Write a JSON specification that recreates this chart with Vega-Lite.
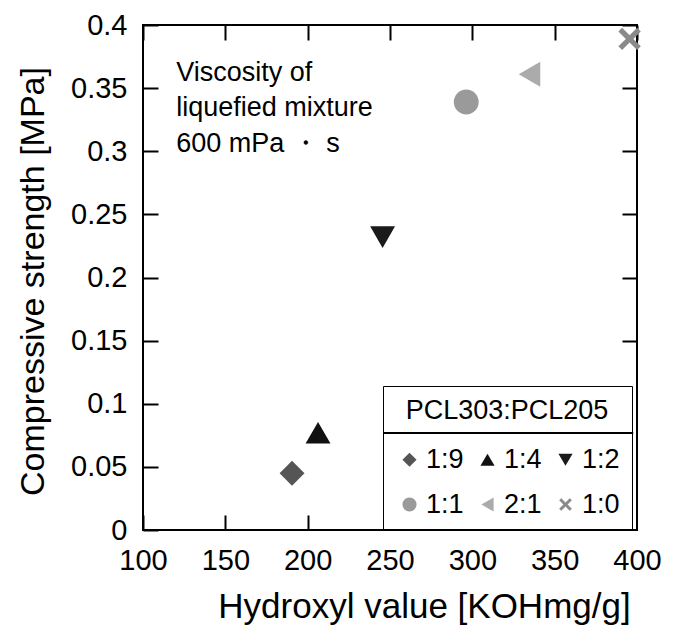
{
  "$schema": "https://vega.github.io/schema/vega-lite/v6.json",
  "width": 494,
  "height": 505,
  "autosize": {"type": "none"},
  "padding": {"left": 143, "top": 25, "right": 41, "bottom": 101},
  "background": "white",
  "config": {
    "view": {"stroke": "black", "strokeWidth": 2},
    "font": "Liberation Sans",
    "axis": {
      "domain": false,
      "grid": false,
      "tickColor": "black",
      "tickWidth": 2,
      "tickSize": 15,
      "labelColor": "black",
      "titleColor": "black",
      "labelFont": "Liberation Sans",
      "titleFont": "Liberation Sans",
      "labelFontSize": 29,
      "titleFontSize": 34,
      "titleFontWeight": "normal"
    }
  },
  "data": {
    "values": [
      {"hydroxyl": 190.5, "strength": 0.045, "ratio": "1:9"},
      {"hydroxyl": 206.3, "strength": 0.077, "ratio": "1:4"},
      {"hydroxyl": 245.5, "strength": 0.232, "ratio": "1:2"},
      {"hydroxyl": 296.3, "strength": 0.339, "ratio": "1:1"},
      {"hydroxyl": 334.7, "strength": 0.361, "ratio": "2:1"},
      {"hydroxyl": 395.5, "strength": 0.389, "ratio": "1:0"}
    ]
  },
  "layer": [
    {
      "mark": {"type": "point", "filled": true, "opacity": 1, "size": 620},
      "encoding": {
        "x": {
          "field": "hydroxyl",
          "type": "quantitative",
          "scale": {"domain": [100, 400], "nice": false, "zero": false},
          "axis": {
            "orient": "bottom",
            "values": [100, 150, 200, 250, 300, 350, 400],
            "ticks": false,
            "labelFlush": false,
            "labelPadding": 16,
            "title": "Hydroxyl value [KOHmg/g]",
            "titleFontSize": 35,
            "titleBaseline": "alphabetic",
            "titleAlign": "center",
            "titleX": 281,
            "titleY": 87
          }
        },
        "y": {
          "field": "strength",
          "type": "quantitative",
          "scale": {"domain": [0, 0.4], "nice": false, "zero": false},
          "axis": {
            "orient": "left",
            "offset": -15,
            "values": [0, 0.05, 0.1, 0.15, 0.2, 0.25, 0.3, 0.35, 0.4],
            "format": "~g",
            "labelFlush": false,
            "labelPadding": 16,
            "title": "Compressive strength [MPa]",
            "titleBaseline": "alphabetic",
            "titleAngle": -90,
            "titleAlign": "center",
            "titleX": -115,
            "titleY": 256
          }
        },
        "shape": {
          "field": "ratio",
          "type": "nominal",
          "scale": {
            "domain": ["1:9", "1:4", "1:2", "1:1", "2:1", "1:0"],
            "range": ["diamond", "triangle-up", "triangle-down", "circle", "triangle-left", "M-0.6,-0.9L0,-0.3L0.6,-0.9L0.9,-0.6L0.3,0L0.9,0.6L0.6,0.9L0,0.3L-0.6,0.9L-0.9,0.6L-0.3,0L-0.9,-0.6Z"]
          },
          "legend": {
            "title": "PCL303:PCL205",
            "orient": "none",
            "legendX": 240,
            "legendY": 361,
            "columns": 3,
            "direction": "horizontal",
            "strokeColor": "black",
            "fillColor": "transparent",
            "padding": 12,
            "titleFont": "Liberation Sans",
            "titleFontSize": 27,
            "titleFontWeight": "normal",
            "titleColor": "black",
            "titleAnchor": "middle",
            "titleLimit": 400,
            "titlePadding": 21,
            "labelFont": "Liberation Sans",
            "labelFontSize": 27,
            "labelColor": "black",
            "labelOffset": 3,
            "symbolSize": 200,
            "symbolOffset": 1,
            "columnPadding": 9,
            "rowPadding": 17,
            "encode": {"legend": {"update": {"strokeWidth": {"value": 2}}}}
          }
        },
        "color": {
          "field": "ratio",
          "type": "nominal",
          "scale": {
            "domain": ["1:9", "1:4", "1:2", "1:1", "2:1", "1:0"],
            "range": ["#555555", "#111111", "#1a1a1a", "#9a9a9a", "#ababab", "#8a8a8a"]
          }
        }
      }
    },
    {
      "data": {"values": [{"note": "Viscosity of liquefied mixture"}]},
      "mark": {"type": "text", "align": "left", "baseline": "alphabetic", "fontSize": 27, "fontWeight": "normal", "lineHeight": 35.5, "color": "black", "font": "Liberation Sans"},
      "encoding": {
        "x": {"datum": 120.2, "type": "quantitative", "axis": {"orient": "top", "offset": -15, "values": [100, 150, 200, 250, 300, 350, 400], "labels": false, "title": null}},
        "y": {"datum": 0.356, "type": "quantitative", "axis": {"orient": "right", "offset": -15, "values": [0.15, 0.2, 0.25, 0.3, 0.35, 0.4], "labels": false, "title": null}},
        "text": {"value": ["Viscosity of", "liquefied mixture", "600 mPa ・ s"]}
      }
    },
    {
      "data": {"values": [{"note": "legend divider"}]},
      "mark": {"type": "rule", "color": "black", "strokeWidth": 2, "clip": false},
      "encoding": {
        "x": {"datum": 245.9, "type": "quantitative", "axis": {"orient": "bottom", "offset": -15, "values": [100, 150, 200], "labels": false, "title": null}},
        "x2": {"datum": 397.7},
        "y": {"datum": 0.0768, "type": "quantitative", "axis": null}
      }
    }
  ],
  "resolve": {"axis": {"x": "independent", "y": "independent"}}
}
